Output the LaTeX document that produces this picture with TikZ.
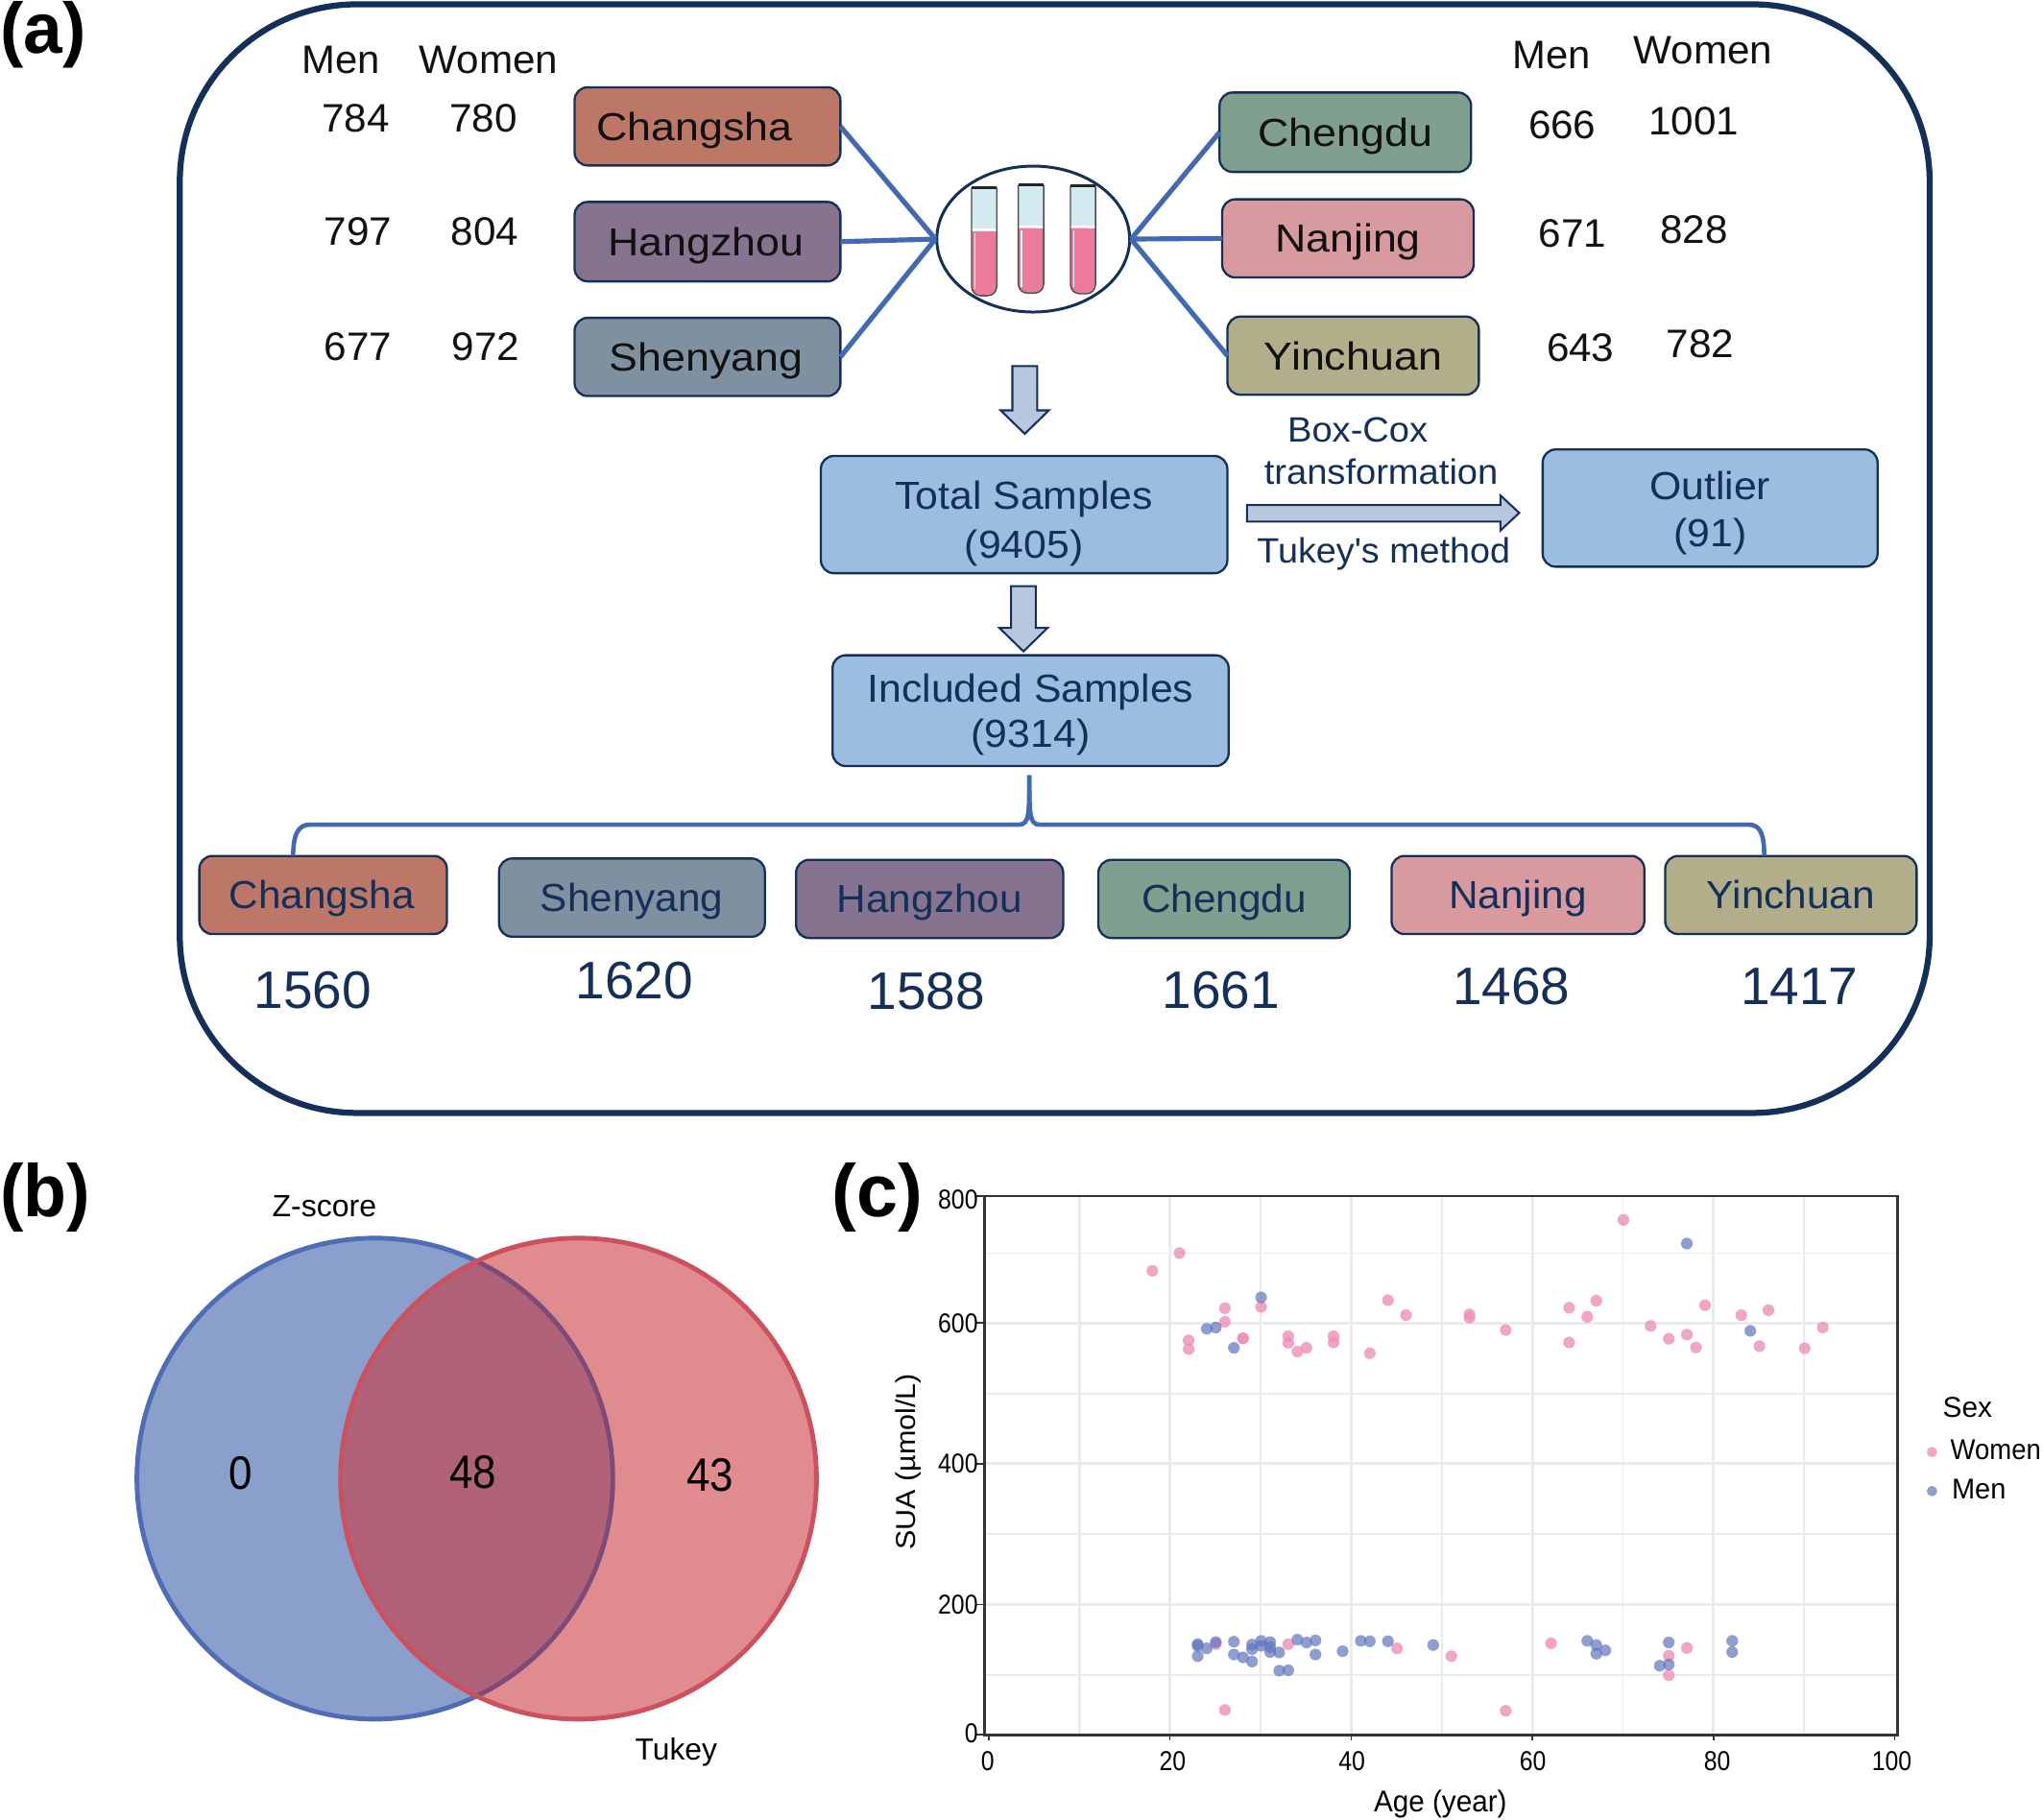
\documentclass[tikz,border=0pt]{standalone}
\usepackage{fontspec}
\usepackage{graphicx}
\setmainfont{Liberation Sans}
\newfontfamily\plainf{Liberation Sans}
\usetikzlibrary{shapes.geometric}
\definecolor{navy}{HTML}{14305A}
\definecolor{ink}{HTML}{111111}
\definecolor{linkblue}{HTML}{4169B4}
\definecolor{cCS}{HTML}{BC7767}
\definecolor{cHZ}{HTML}{85738F}
\definecolor{cSY}{HTML}{7F90A1}
\definecolor{cCD}{HTML}{7F9F8F}
\definecolor{cNJ}{HTML}{D8999F}
\definecolor{cYC}{HTML}{B2AE89}
\definecolor{cLB}{HTML}{9BBDE0}
\definecolor{cAR}{HTML}{B8C7E0}
\definecolor{vennB}{HTML}{8A9FCC}
\definecolor{vennR}{HTML}{E08C8F}
\definecolor{vennM}{HTML}{B06378}
\definecolor{vennBe}{HTML}{4E6DB6}
\definecolor{vennBm}{HTML}{7E4A78}
\definecolor{vennRe}{HTML}{CD505E}
\definecolor{gridc}{HTML}{EBEBEB}
\definecolor{ptW}{HTML}{EE8FBA}
\definecolor{ptM}{HTML}{5F75BE}
\definecolor{tubered}{HTML}{EC7A9B}
\definecolor{tubeblue}{HTML}{D3EAF1}
\newcommand{\tx}[3]{\scalebox{#2}[1]{\fontsize{#1}{#1}\selectfont #3}}
% box from corners: name,x1,y1,x2,y2,fill,text colour,dx,text
\newcommand{\bx}[9]{%
  \pgfmathsetmacro{\bw}{#4-#2}\pgfmathsetmacro{\bh}{#5-#3}%
  \pgfmathsetmacro{\bcx}{(#2+#4)/2}\pgfmathsetmacro{\bcy}{(#3+#5)/2}%
  \node[cbox,fill=#6,text=#7,minimum width=\bw pt,minimum height=\bh pt] (#1) at (\bcx,\bcy)
    {\makebox[0pt]{\hspace{#8pt}\raisebox{-10.7pt}[0pt][0pt]{\tx{30}{1.1}{#9}}}};}
\newcommand{\downarrowblock}[3]{% x centre, top, tip
  \filldraw[blockarrow] ({#1-9.5},#2) -- ({#1+9.5},#2) -- ({#1+9.5},{#3-18}) -- ({#1+18.5},{#3-18})
   -- (#1,#3) -- ({#1-18.5},{#3-18}) -- ({#1-9.5},{#3-18}) -- cycle;}
\newcommand{\testtube}[5]{% xl,xr,top,liquid,bottom
  \fill[fill=white,rounded corners=7] (#1,#3) -- (#1,#5) -- (#2,#5) -- (#2,#3) -- cycle;
  \fill[fill=tubeblue] (#1,#3) rectangle (#2,#4);
  \fill[fill=tubered,rounded corners=7] (#1,{#4+2}) -- (#1,#5) -- (#2,#5) -- (#2,{#4+2}) [sharp corners] -- cycle;
  \fill[fill=tubered] (#1,{#4+2}) rectangle (#2,{#4+12});
  \draw[white,line width=1] ({#1+2.5},{#4+4}) -- ({#1+2.5},{#5-5});
  \draw[black!70,line width=1,rounded corners=7] (#1,#3) -- (#1,#5) -- (#2,#5) -- (#2,#3);
  \draw[black!85,line width=2.2] (#1,#3) -- (#2,#3);}
\tikzset{
  cbox/.style={draw=navy,line width=1.7,rounded corners=10,inner sep=0pt,outer sep=0pt,align=center},
  txt/.style={inner sep=0pt,outer sep=0pt,text=ink},
  ntxt/.style={inner sep=0pt,outer sep=0pt,text=navy},
  conn/.style={draw=linkblue,line width=3.8},
  blockarrow/.style={draw=navy,fill=cAR,line width=1.5,line join=miter},
  ptw/.style={fill=ptW,fill opacity=.8},
  ptm/.style={fill=ptM,fill opacity=.7},
  ptxt/.style={inner sep=0pt,outer sep=0pt,text=black},
}
\begin{document}
\begin{tikzpicture}[x=1pt,y=-1pt]
\useasboundingbox (0,0) rectangle (1568,1397.05);
\fill[white] (0,0) rectangle (1568,1397.05);
% panel letters
\node[ptxt] (lblA) at (33,26.5) {\tx{55}{.98}{\bfseries (a)}};
\node[ptxt] (lblB) at (34.7,919.5) {\tx{57}{.95}{\bfseries (b)}};
\node[ptxt] (lblC) at (673.5,919) {\tx{57}{1}{\bfseries (c)}};
% outer frame
\node[draw=navy,line width=4.6,rounded corners=136,minimum width=1343pt,minimum height=851pt,inner sep=0pt] (frame) at (809.5,428.8) {};
% top left
\node[txt] (mL) at (262,46) {\tx{30.5}{1.01}{Men}};
\node[txt] (wL) at (375,46) {\tx{30.5}{1.02}{Women}};
\node[txt] (n11) at (273,91) {\tx{30.5}{1.02}{784}};
\node[txt] (n12) at (371,91) {\tx{30.5}{1.02}{780}};
\node[txt] (n21) at (275,178) {\tx{30.5}{1.02}{797}};
\node[txt] (n22) at (372,178) {\tx{30.5}{1.02}{804}};
\node[txt] (n31) at (275,266) {\tx{30.5}{1.02}{677}};
\node[txt] (n32) at (373,266) {\tx{30.5}{1.02}{972}};
% top right
\node[txt] (mR) at (1191,42) {\tx{30.5}{1.01}{Men}};
\node[txt] (wR) at (1307,39) {\tx{30.5}{1.02}{Women}};
\node[txt] (n41) at (1199,96) {\tx{30.5}{1.02}{666}};
\node[txt] (n42) at (1300,93) {\tx{30.5}{1.02}{1001}};
\node[txt] (n51) at (1207,179) {\tx{30.5}{1.02}{671}};
\node[txt] (n52) at (1300,176) {\tx{30.5}{1.02}{828}};
\node[txt] (n61) at (1213,267) {\tx{30.5}{1.02}{643}};
\node[txt] (n62) at (1305,264) {\tx{30.5}{1.02}{782}};
% city boxes, top
\bx{csT}{441}{67}{645}{127}{cCS}{ink}{-20}{Changsha}
\bx{hzT}{441}{155}{645}{216}{cHZ}{ink}{-2}{Hangzhou}
\bx{syT}{441}{244}{645}{304}{cSY}{ink}{-2}{Shenyang}
\bx{cdT}{936}{71}{1129}{132}{cCD}{ink}{0}{Chengdu}
\bx{njT}{938}{153}{1131}{213}{cNJ}{ink}{0}{Nanjing}
\bx{ycT}{942}{243}{1135}{303}{cYC}{ink}{0}{Yinchuan}
% sample ellipse + tubes
\node[ellipse,draw=navy,line width=2.2,minimum width=148pt,minimum height=112pt,inner sep=0pt] (sample) at (793,183.5) {};
\testtube{745.7}{765}{144}{175.4}{227}
\testtube{781.5}{801}{142}{173}{225}
\testtube{821.6}{840.8}{142.5}{173}{225.5}
\draw[conn] (csT.east) -- (sample.west);
\draw[conn] (hzT.east) -- (sample.west);
\draw[conn] (syT.east) -- (sample.west);
\draw[conn] (cdT.west) -- (sample.east);
\draw[conn] (njT.west) -- (sample.east);
\draw[conn] (ycT.west) -- (sample.east);
% block arrows
\downarrowblock{786.5}{281}{333}
\downarrowblock{785.5}{450}{500}
\filldraw[blockarrow] (957,387.6) -- (1151.5,387.6) -- (1151.5,380.2) -- (1166,393.7) -- (1151.5,407.3) -- (1151.5,400.3) -- (957,400.3) -- cycle;
% flow boxes
\node[cbox,fill=cLB,text=navy,minimum width=312pt,minimum height=90pt,font=\fontsize{30}{38}\selectfont] (total) at (786,395)
  {\rule{0pt}{35.5pt}\scalebox{1.05}[1]{Total Samples}\\\scalebox{1.05}[1]{(9405)}};
\node[cbox,fill=cLB,text=navy,minimum width=257pt,minimum height=90pt,font=\fontsize{30}{36}\selectfont] (outlier) at (1312.5,390)
  {\rule{0pt}{29.5pt}\scalebox{1.05}[1]{Outlier}\\\scalebox{1.05}[1]{(91)}};
\node[cbox,fill=cLB,text=navy,minimum width=304pt,minimum height=85pt,font=\fontsize{30}{35}\selectfont] (incl) at (791,545.5)
  {\rule{0pt}{27.5pt}\scalebox{1.05}[1]{Included Samples}\\\scalebox{1.05}[1]{(9314)}};
\node[ntxt] (boxcox) at (1042,330) {\tx{27}{1.04}{Box-Cox}};
\node[ntxt] (transf) at (1060,362) {\tx{27}{1.04}{transformation}};
\node[ntxt] (tukeyM) at (1062,425) {\tx{27}{1.03}{\plainf Tukey's method}};
% bottom boxes
\bx{csB}{153}{657}{343}{717}{cCS}{navy}{-2}{\scalebox{.945}[1]{Changsha}}
\bx{syB}{383}{659}{587}{719}{cSY}{navy}{0}{\scalebox{.945}[1]{Shenyang}}
\bx{hzB}{611}{660}{816}{720}{cHZ}{navy}{0}{\scalebox{.945}[1]{Hangzhou}}
\bx{cdB}{843}{660}{1036}{720}{cCD}{navy}{0}{\scalebox{.945}[1]{Chengdu}}
\bx{njB}{1068}{657}{1262}{717}{cNJ}{navy}{0}{\scalebox{.945}[1]{Nanjing}}
\bx{ycB}{1278}{657}{1471}{717}{cYC}{navy}{0}{\scalebox{.945}[1]{Yinchuan}}
\node[ntxt] (c1) at (240,760) {\tx{40.5}{1}{1560}};
\node[ntxt] (c2) at (487,753) {\tx{40.5}{1}{1620}};
\node[ntxt] (c3) at (711,761) {\tx{40.5}{1}{1588}};
\node[ntxt] (c4) at (937,760) {\tx{40.5}{1}{1661}};
\node[ntxt] (c5) at (1160,757) {\tx{40.5}{1}{1468}};
\node[ntxt] (c6) at (1381,757) {\tx{40.5}{1}{1417}};
% bracket
\coordinate (stem) at (790,595);
\draw[conn,line width=3.4] (stem) .. controls (790,625) and (790,633) .. (782,633) -- (238,633) .. controls (229,633) and (225,640) .. (225,0 |- csB.north);
\draw[conn,line width=3.4] (stem) .. controls (790,625) and (790,633) .. (798,633) -- (1342,633) .. controls (1351,633) and (1354,640) .. (1354,0 |- ycB.north);
% venn
\coordinate (vb) at (287.7,1135);
\coordinate (vr) at (444,1135);
\tikzset{vennshape/.style={x radius=182.6,y radius=184.6}}
\fill[vennB] (vb) circle[vennshape];
\draw[vennBe,line width=3.6] (vb) circle[vennshape];
\fill[vennR] (vr) circle[vennshape];
\begin{scope}
\clip (vb) circle[vennshape];
\fill[vennM] (vr) circle[vennshape];
\end{scope}
\begin{scope}
\clip (vr) circle[vennshape];
\draw[vennBm,line width=3.6] (vb) circle[vennshape];
\end{scope}
\draw[vennRe,line width=3.6] (vr) circle[vennshape];
\node[ptxt] (vz) at (249,926) {\tx{23.6}{1}{Z-score}};
\node[ptxt] (vt) at (519,1345) {\tx{23.4}{1}{Tukey}};
\node[ptxt] (v0) at (185,1131) {\tx{36}{.9}{0}};
\node[ptxt] (v48) at (363,1130) {\tx{36}{.9}{48}};
\node[ptxt] (v43) at (545,1132) {\tx{36}{.9}{43}};
% plot c
\foreach \z/\w in {198/1.2,538/1.2,877/1.2,1217/1.2,367/2.4,707/2.4,1047/2.4}
  \draw[gridc,line width=\w] (756,{898.97+0.31768*\z}) -- (1456,{898.97+0.31768*\z});
\foreach \a/\w in {10/2.2,20/2.2,30/1.2,40/2.2,50/1.2,60/2.2,70/1.2,80/2.2,90/1.2}
  \draw[gridc,line width=\w] ({758.9+6.953*\a},918) -- ({758.9+6.953*\a},1331.6);
\foreach \a/\z in {18/241,21/198,22/409,22/430,26/331,26/364,28/404,28/404,30/328,33/399,33/415,34/436,35/427,38/399,38/414,42/440,44/312,46/348,53/346,53/354,57/384,64/330,64/414,66/352,67/313,70/118,73/374,75/405,77/395,78/426,79/324,83/348,85/423,86/336,90/428,92/378,25/1143,33/1143,45/1153,51/1172,62/1141,75/1171,75/1218,77/1152,26/1302,57/1304}
  \fill[ptw] ({759.3+6.953*\a},{898.97+0.31768*\z}) circle[radius=4.5];
\foreach \a/\z in {77/175,30/305,24/381,25/378,27/427,84/386,23/1143,23/1172,23/1147,24/1153,25/1138,27/1137,27/1168,28/1175,29/1144,29/1155,29/1185,30/1135,30/1147,31/1138,31/1150,31/1162,32/1163,32/1207,33/1206,34/1132,35/1139,36/1134,36/1168,39/1160,41/1135,42/1136,44/1136,49/1145,66/1135,67/1145,67/1166,68/1158,74/1195,75/1139,75/1192,82/1135,82/1162}
  \fill[ptm] ({759.3+6.953*\a},{898.97+0.31768*\z}) circle[radius=4.5];
\node[draw=black!80,line width=2,minimum width=701pt,minimum height=413.6pt,inner sep=0pt] (plotc) at (1106,1124.8) {};
\foreach \z in {60,367,707,1047,1362}
  \draw[black!80,line width=1.2] (749.5,{898.97+0.31768*\z}) -- (755.5,{898.97+0.31768*\z});
\foreach \a in {0,20,40,60,80,100}
  \draw[black!80,line width=1.2] ({758.9+6.953*\a},1331.6) -- ({758.9+6.953*\a},1336);
\foreach \v/\z in {800/68,600/367,400/707,200/1047,0/1358}
  \node[ptxt,anchor=east] (yl\v) at (750.5,{898.97+0.31768*\z}) {\tx{21}{.87}{\v}};
\foreach \a/\xp in {0/758,20/900,40/1037.5,60/1176.5,80/1318,100/1452}
  \node[ptxt] (xl\a) at (\xp,1351.5) {\tx{21}{.87}{\a}};
\node[ptxt] (xlab) at (1105.5,1385) {\tx{23}{.95}{Age (year)}};
\node[ptxt,rotate=90] (ylab) at (697,1122) {\tx{21}{1.07}{SUA (µmol/L)}};
\node[ptxt] (lsex) at (1510,1080) {\tx{22}{1}{Sex}};
\node[ptxt,anchor=west] (lw) at (1497,1113) {\tx{22}{.92}{Women}};
\node[ptxt,anchor=west] (lm) at (1498,1143) {\tx{22}{.97}{Men}};
\fill[ptw] (1482.8,1114.6) circle[radius=4];
\fill[ptm] (1482.8,1144.6) circle[radius=4];
\end{tikzpicture}
\end{document}
